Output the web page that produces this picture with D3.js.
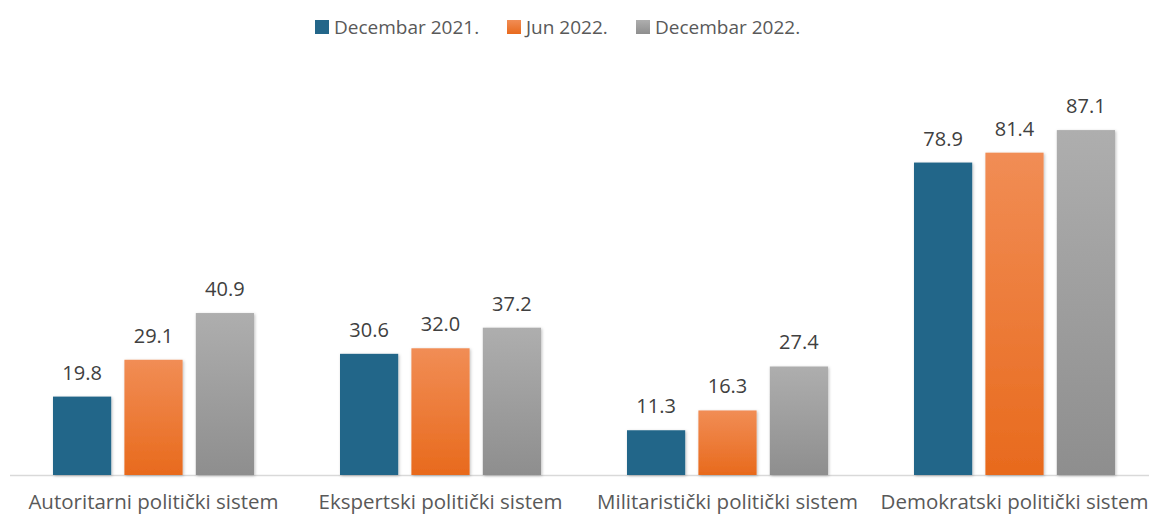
<!DOCTYPE html>
<html>
<head>
<meta charset="utf-8">
<script src="https://cdn.jsdelivr.net/npm/d3@7"></script>
<style>
body{margin:0;background:#fff;}
text{font-family:"Open Sans",sans-serif;}
</style>
</head>
<body>
<svg id="chart"></svg>
<script>
var width=1149, height=515;
var categories=["Autoritarni politički sistem","Ekspertski politički sistem","Militaristički politički sistem","Demokratski politički sistem"];
var seriesNames=["Decembar 2021.","Jun 2022.","Decembar 2022."];
var dec2021=[19.8,30.6,11.3,78.9];
var jun2022=[29.1,32.0,16.3,81.4];
var dec2022=[40.9,37.2,27.4,87.1];
var series=[dec2021,jun2022,dec2022];

var baseY=475;
var svg=d3.select("#chart").attr("width",width).attr("height",height);
var defs=svg.append("defs");

// gradients per series
var grads=[["#236689","#236689"],["#F18D55","#E86A1D"],["#AEAEAE","#8E8E8E"]];
grads.forEach(function(g,i){
  var lg=defs.append("linearGradient").attr("id","g"+i).attr("x1",0).attr("y1",0).attr("x2",0).attr("y2",1);
  lg.append("stop").attr("offset","0%").attr("stop-color",g[0]);
  lg.append("stop").attr("offset","100%").attr("stop-color",g[1]);
});
var f=defs.append("filter").attr("id","sh").attr("x","-20%").attr("y","-20%").attr("width","140%").attr("height","140%");
f.append("feDropShadow").attr("dx",1).attr("dy",1).attr("stdDeviation",1.5).attr("flood-color","#000").attr("flood-opacity",0.25);

var x0=d3.scaleBand().domain(categories).range([10,1158]).paddingInner(0).paddingOuter(0);
var x1=d3.scaleBand().domain(d3.range(3)).range([43,244]).paddingInner(0.185);
var y=d3.scaleLinear().domain([0,100]).range([baseY,79]);

// axis line
svg.append("line").attr("x1",10).attr("x2",width).attr("y1",baseY+0.5).attr("y2",baseY+0.5)
  .attr("stroke","#D9D9D9").attr("stroke-width",1.5);

var groups=svg.selectAll(".grp").data(categories).enter().append("g")
  .attr("transform",function(d){return "translate("+x0(d)+",0)";});

groups.each(function(c,ci){
  var g=d3.select(this);
  series.forEach(function(s,si){
    var v=s[ci];
    g.append("rect")
      .attr("x",x1(si)).attr("width",x1.bandwidth())
      .attr("y",y(v)).attr("height",baseY-y(v))
      .attr("fill","url(#g"+si+")").attr("filter","url(#sh)");
    g.append("text")
      .attr("x",x1(si)+x1.bandwidth()/2).attr("y",y(v)-17)
      .attr("text-anchor","middle").attr("font-size",20).attr("fill","#404040")
      .text(v.toFixed(1));
  });
  g.append("text")
    .attr("x",x0.bandwidth()/2).attr("y",509)
    .attr("text-anchor","middle").attr("font-size",20.5).attr("fill","#595959")
    .text(c);
});

// legend
var legX=[315,507,636];
var leg=svg.selectAll(".leg").data(seriesNames).enter().append("g")
  .attr("transform",function(d,i){return "translate("+legX[i]+",20)";});
leg.append("rect").attr("width",14).attr("height",14).attr("fill",function(d,i){return "url(#g"+i+")";});
leg.append("text").attr("x",19).attr("y",14).attr("font-size",19).attr("fill","#595959").text(function(d){return d;});
</script>
</body>
</html>
